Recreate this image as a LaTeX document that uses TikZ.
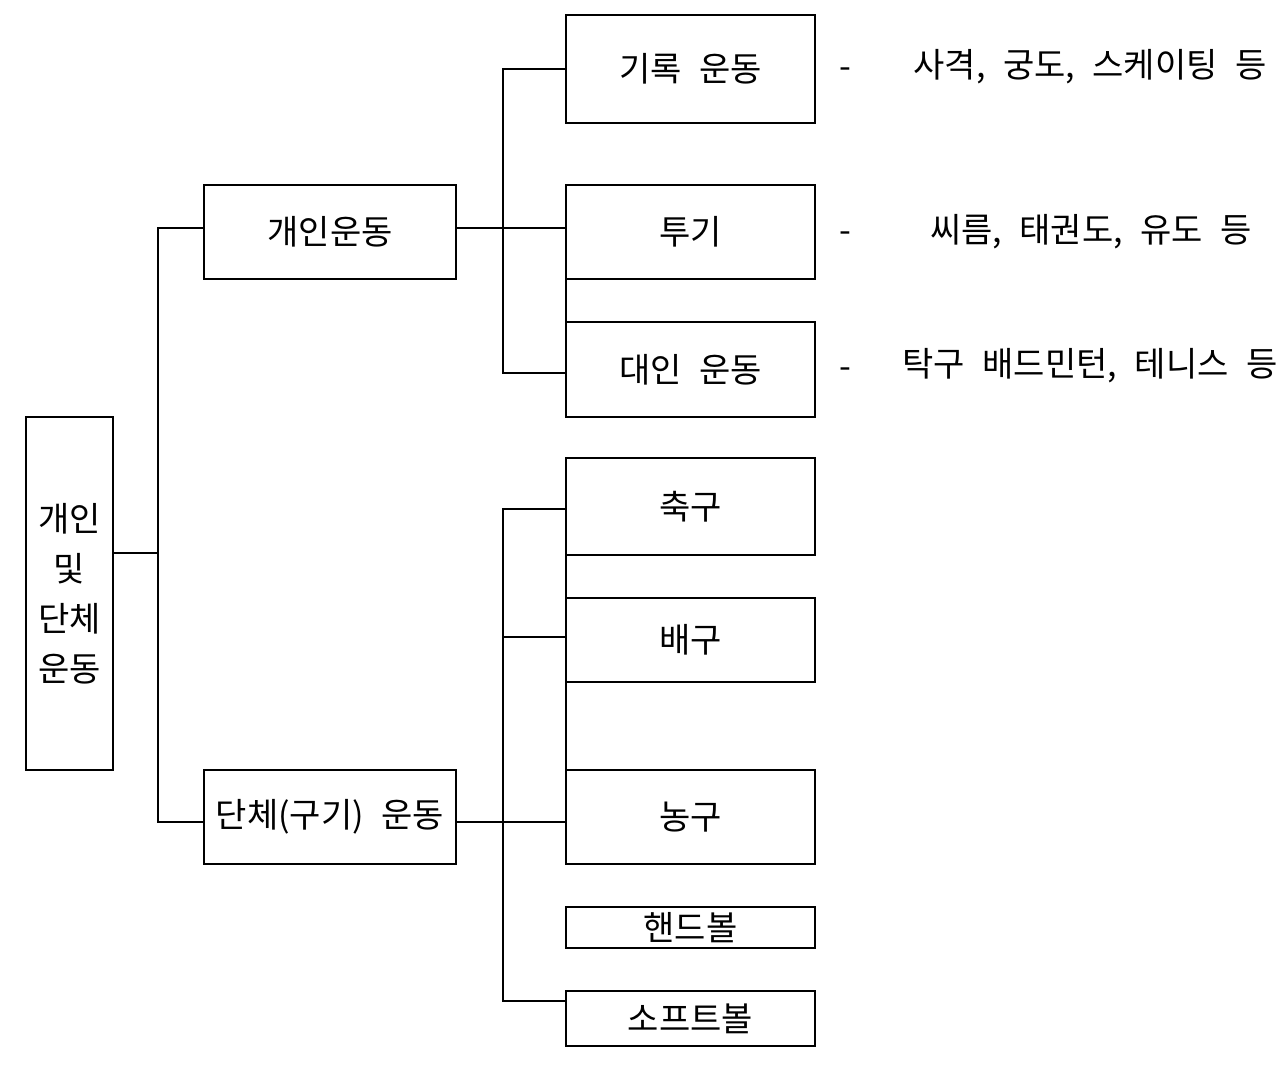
\documentclass[tikz,border=0pt]{standalone}
\usepackage{fontspec}
\setmainfont[WordSpace=2.3]{Noto Sans CJK KR}
\begin{document}
\begin{tikzpicture}[x=0.75pt,y=-0.75pt,
  box/.style={draw, line width=2.2pt, inner sep=0pt, outer sep=0pt, font=\fontsize{25.5}{37.5}\selectfont, align=center},
  wbox/.style={box, minimum width=186.75pt},
  conn/.style={line width=2.2pt},
  note/.style={font=\fontsize{25.5}{30}\selectfont, inner sep=0pt}]
\useasboundingbox (0,0) rectangle (1280,1066);
% boxes
\node[box, minimum width=65.25pt, minimum height=264.75pt] (root) at (69.5,593.5) {개인\\및\\단체\\운동};
\node[box, minimum width=189pt, minimum height=70.5pt] (b1) at (330,232) {개인운동};
\node[box, minimum width=189pt, minimum height=70.5pt] (b2) at (330,817) {단체(구기) 운동};
\node[wbox, minimum height=81pt] (t1) at (690.5,69) {기록 운동};
\node[wbox, minimum height=70.5pt] (t2) at (690.5,232) {투기};
\node[wbox, minimum height=71.25pt] (t3) at (690.5,369.5) {대인 운동};
\node[wbox, minimum height=72.75pt] (t4) at (690.5,506.5) {축구};
\node[wbox, minimum height=63pt] (t5) at (690.5,640) {배구};
\node[wbox, minimum height=70.5pt] (t6) at (690.5,817) {농구};
\node[wbox, minimum height=30.75pt] (t7) at (690.5,927.5) {핸드볼};
\node[wbox, minimum height=41.25pt] (t8) at (690.5,1018.5) {소프트볼};
% notes
\node[note] (d1) at (845,73) {-};
\node[note] (d2) at (845,237) {-};
\node[note] (d3) at (845,373) {-};
\node[note] (n1) at (1090,67) {사격, 궁도, 스케이팅 등};
\node[note] (n2) at (1091,232) {씨름, 태권도, 유도 등};
\node[note] (n3) at (1090,366) {탁구 배드민턴, 테니스 등};
% junctions
\coordinate (j0) at (158,553);
\coordinate (ja) at (158,228);
\coordinate (jb) at (158,822);
\coordinate (u1) at (503,69);
\coordinate (u2) at (503,228);
\coordinate (u3) at (503,373);
\coordinate (l1) at (503,509);
\coordinate (l2) at (503,637);
\coordinate (l3) at (503,822);
\coordinate (l4) at (503,1001);
% connectors
\draw[conn] (j0 -| root.east) -- (j0);
\draw[conn] (ja -| b1.west) -- (ja) -- (jb) -- (jb -| b2.west);
\draw[conn] (u2 -| b1.east) -- (u2 -| t2.west);
\draw[conn] (u1 -| t1.west) -- (u1) -- (u3) -- (u3 -| t3.west);
\draw[conn] (l1 -| t4.west) -- (l1) -- (l4) -- (l4 -| t8.west);
\draw[conn] (l2) -- (l2 -| t5.west);
\draw[conn] (l3 -| b2.east) -- (l3 -| t6.west);
\draw[conn] (t2.south west) -- (t3.north west);
\draw[conn] (t4.south west) -- (t5.north west);
\draw[conn] (t5.south west) -- (t6.north west);
\end{tikzpicture}
\end{document}
